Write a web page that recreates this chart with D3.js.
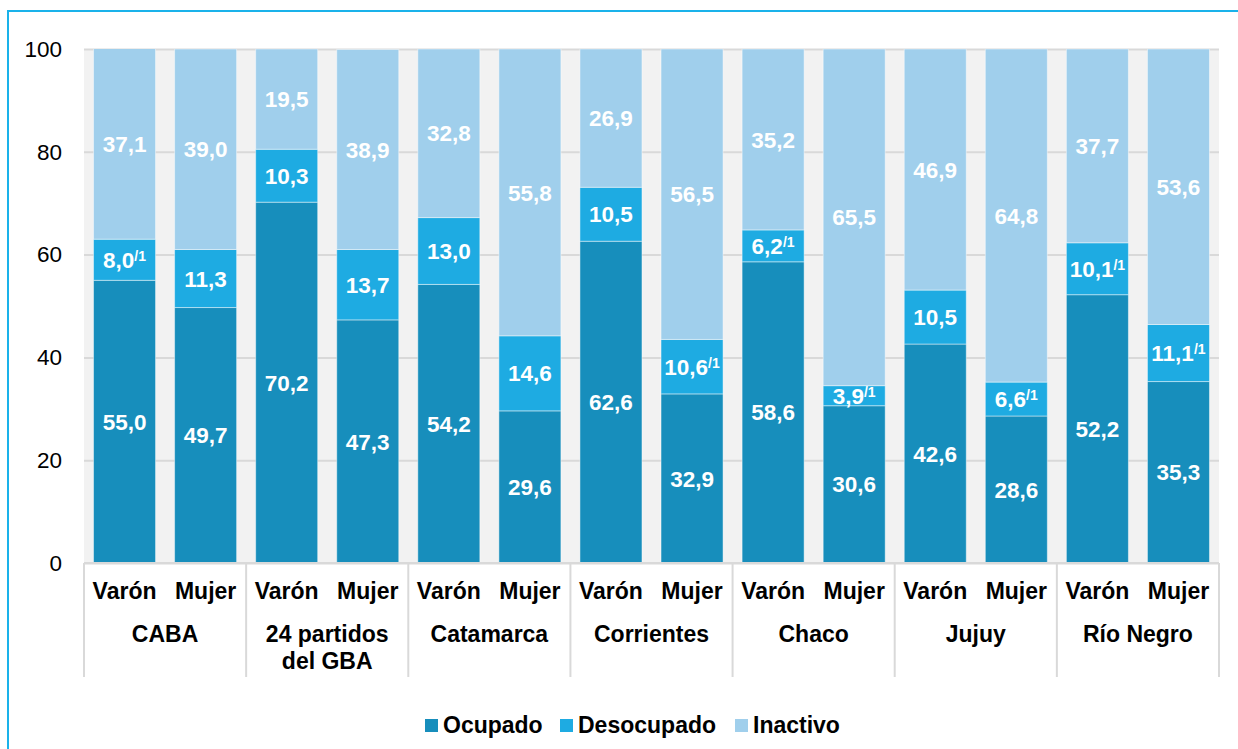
<!doctype html>
<html lang="es">
<head>
 <meta charset="utf-8">
 <title>Condición de actividad por sexo</title>
 <style>
 body{margin:0;background:#fff;}
 svg{display:block;}
 svg text{font-family:"Liberation Sans",Arial,sans-serif;}
 </style>
 <script src="https://cdnjs.cloudflare.com/ajax/libs/d3/7.8.5/d3.min.js"></script>
</head>
<body>
 <svg width="1238" height="749"></svg>
 <script>

 const regions=["CABA","24 partidos del GBA","Catamarca","Corrientes","Chaco","Jujuy","Río Negro"];
 const sexes=["Varón","Mujer"];
 const seriesNames=["Ocupado","Desocupado","Inactivo"];

 // one entry per bar, in order: region x sex
 const ocupado=[55.0,49.7,70.2,47.3,54.2,29.6,62.6,32.9,58.6,30.6,42.6,28.6,52.2,35.3];
 const desocupado=[8.0,11.3,10.3,13.7,13.0,14.6,10.5,10.6,6.2,3.9,10.5,6.6,10.1,11.1];
 const inactivo=[37.1,39.0,19.5,38.9,32.8,55.8,26.9,56.5,35.2,65.5,46.9,64.8,37.7,53.6];
 // desocupado values flagged with the /1 note
 const flagged=[true,false,false,false,false,false,false,true,true,true,false,true,true,true];

 const yTicks=[0,20,40,60,80,100];

 const svgwid=1238;
 const svghei=749;

 const margin={top:49,left:84,right:19,bottom:186};
 const width=svgwid-(margin.left+margin.right);
 const height=svghei-(margin.top+margin.bottom);

 const colors=["#178ebc","#1eabe2","#a0cfec"];

 const bars=[];
 regions.forEach((r,i)=>{
 sexes.forEach((s,j)=>{
 const k=i*2+j;
 bars.push({key:r+"|"+s,region:r,sex:s,Ocupado:ocupado[k],Desocupado:desocupado[k],Inactivo:inactivo[k],flag:flagged[k]});
 });
 });

 const xScale=d3.scaleBand()
 .domain(bars.map(d=>d.key))
 .range([0,width])
 .paddingInner(0.235)
 .paddingOuter(0.1175);

 const yScale=d3.scaleLinear()
 .domain([0,100])
 .range([height,0]);

 const stack=d3.stack().keys(seriesNames);
 const stacked=stack(bars);

 const svg=d3.select("svg");

 // outer frame
 svg.append("rect")
 .attr("x",8)
 .attr("y",11)
 .attr("width",1300)
 .attr("height",800)
 .attr("fill","none")
 .attr("stroke","#1ab2ea")
 .attr("stroke-width",2);

 const g=svg.append("g")
 .attr("transform",`translate(${margin.left},${margin.top})`);

 g.append("rect")
 .attr("width",width)
 .attr("height",height)
 .attr("fill","#f2f2f2");

 g.append("defs").append("clipPath")
 .attr("id","plotclip")
 .append("rect")
 .attr("width",width)
 .attr("height",height);

 // gridlines + y labels
 const yAxis=d3.axisLeft(yScale).tickValues(yTicks).tickSize(-width).tickPadding(22);
 g.append("g")
 .attr("class","yAxis")
 .call(yAxis)
 .call(a=>a.select(".domain").remove())
 .call(a=>a.selectAll("line").attr("stroke","#d9d9d9").attr("stroke-width",2))
 .call(a=>a.selectAll("text").attr("fill","#000").attr("font-family",null).style("font-size","22.5px"));

 // bars
 const barG=g.append("g").attr("clip-path","url(#plotclip)");
 barG.selectAll(".series")
 .data(stacked)
 .enter()
 .append("g")
 .attr("class","series")
 .attr("fill",(d,i)=>colors[i])
 .selectAll("rect")
 .data(d=>d)
 .enter()
 .append("rect")
 .attr("x",d=>xScale(d.data.key))
 .attr("width",xScale.bandwidth())
 .attr("y",d=>yScale(d[1]))
 .attr("height",d=>yScale(d[0])-yScale(d[1]))
 .attr("stroke","rgba(255,255,255,0.45)")
 .attr("stroke-width",1);

 // value labels
 const fmt=v=>d3.format(".1f")(v).replace(".",",");
 stacked.forEach((s,si)=>{
 const lab=g.append("g").attr("class","labels-"+si);
 s.forEach(d=>{
 const v=d.data[s.key];
 const t=lab.append("text")
 .attr("x",xScale(d.data.key)+xScale.bandwidth()/2)
 .attr("y",yScale((d[0]+Math.min(d[1],100))/2))
 .attr("dy","0.36em")
 .attr("text-anchor","middle")
 .attr("fill","#fff")
 .style("font-size","22.5px")
 .style("font-weight","bold");
 t.append("tspan").text(fmt(v));
 if(s.key==="Desocupado" && d.data.flag){
 t.append("tspan")
 .text("/1")
 .attr("dy","-0.5em")
 .style("font-size","14px");
 }
 });
 });

 // category axis
 const catG=g.append("g")
 .attr("class","xAxis")
 .attr("transform",`translate(0,${height})`);

 catG.append("line")
 .attr("x1",0).attr("x2",width)
 .attr("stroke","#d9d9d9").attr("stroke-width",2);

 const step=xScale.step();
 d3.range(regions.length+1).forEach(i=>{
 catG.append("line")
 .attr("x1",i*2*step).attr("x2",i*2*step)
 .attr("y1",0).attr("y2",114)
 .attr("stroke","#d9d9d9").attr("stroke-width",2);
 });

 catG.selectAll(".sexLabel")
 .data(bars)
 .enter()
 .append("text")
 .attr("class","sexLabel")
 .attr("x",d=>xScale(d.key)+xScale.bandwidth()/2)
 .attr("y",36)
 .attr("text-anchor","middle")
 .style("font-size","23px")
 .style("font-weight","bold")
 .text(d=>d.sex);

 const regionLines={"24 partidos del GBA":["24 partidos","del GBA"]};
 catG.selectAll(".regionLabel")
 .data(regions)
 .enter()
 .append("text")
 .attr("class","regionLabel")
 .attr("x",(d,i)=>(i*2+1)*step)
 .attr("y",79)
 .attr("text-anchor","middle")
 .style("font-size","23px")
 .style("font-weight","bold")
 .each(function(d){
 const lines=regionLines[d]||[d];
 d3.select(this).selectAll("tspan")
 .data(lines)
 .enter()
 .append("tspan")
 .attr("x",d3.select(this).attr("x"))
 .attr("dy",(l,i)=>i===0?0:27)
 .text(l=>l);
 });

 // legend
 const legend=svg.append("g").attr("class","legend");
 const legendX=[425,560,735];
 seriesNames.forEach((name,i)=>{
 legend.append("rect")
 .attr("x",legendX[i])
 .attr("y",719)
 .attr("width",13)
 .attr("height",13)
 .attr("fill",colors[i]);
 legend.append("text")
 .attr("x",legendX[i]+18)
 .attr("y",733)
 .style("font-size","23px")
 .style("font-weight","bold")
 .text(name);
 });

 </script>
</body>
</html>
